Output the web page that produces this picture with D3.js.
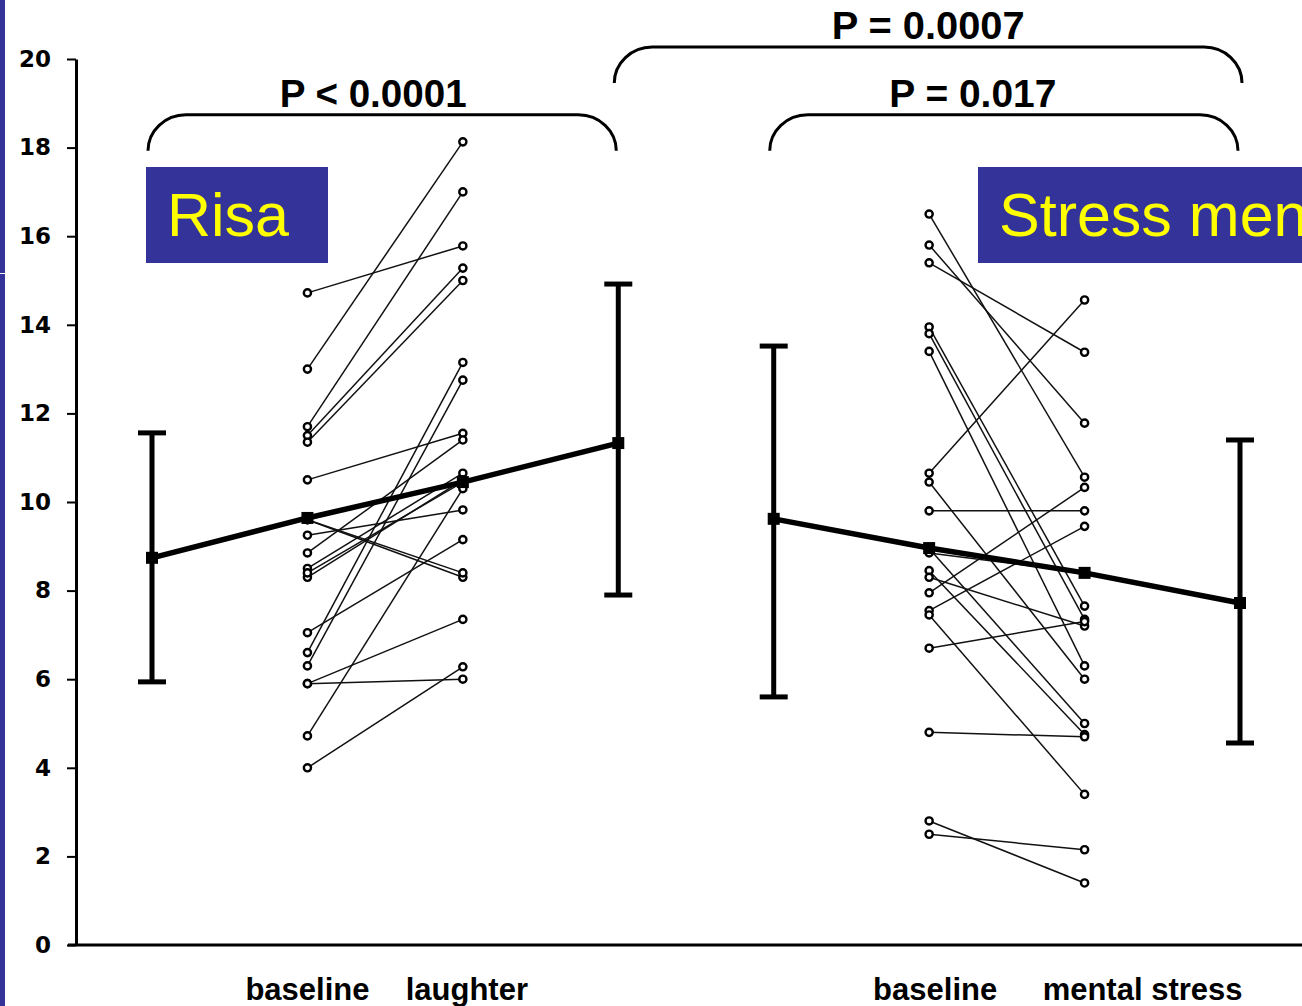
<!DOCTYPE html>
<html>
<head>
<meta charset="utf-8">
<script src="https://cdn.jsdelivr.net/npm/d3@7"></script>
<style>
  html, body { margin: 0; padding: 0; background: #ffffff; overflow: hidden; }
  svg { display: block; }
</style>
</head>
<body>
<svg id="chart" width="1302" height="1006"></svg>
<script>
// Column slots along the x axis: error-bar columns flank each paired group
const slots = ["sdBase1", "baseline1", "laughter", "sdAfter1", "sdBase2", "baseline2", "stress", "sdAfter2"];

// Y axis ticks
const yTicks = [0, 2, 4, 6, 8, 10, 12, 14, 16, 18, 20];

// Laughter session: individual subjects, baseline -> laughter
const laughBaseline = [14.72, 13.0, 11.7, 11.5, 11.35, 10.5, 9.6, 9.25, 8.85, 8.5, 8.3, 7.05, 6.6, 6.3, 5.9, 5.9, 4.72, 4.0, 8.4, 9.6];
const laughAfter    = [15.78, 18.13, 17.0, 15.28, 15.0, 11.55, 8.3, 9.82, 11.4, 10.65, 10.5, 9.15, 13.15, 12.75, 6.0, 7.35, 10.3, 6.28, 10.45, 8.4];

// Mental stress session: individual subjects, baseline -> mental stress
const stressBaseline = [16.5, 15.8, 15.4, 13.95, 13.8, 13.4, 10.65, 10.45, 9.8, 8.95, 8.85, 8.45, 8.3, 7.95, 7.55, 7.45, 6.7, 4.8, 2.8, 2.5];
const stressAfter    = [10.56, 11.78, 13.38, 7.65, 7.35, 6.3, 14.56, 6.0, 9.8, 5.0, 8.4, 4.75, 7.2, 10.33, 9.45, 3.4, 7.3, 4.7, 1.4, 2.15];

// Group means (thick lines), one value per slot
const meanLaughSlots  = ["sdBase1", "baseline1", "laughter", "sdAfter1"];
const meanLaugh       = [8.74, 9.64, 10.45, 11.33];
const meanStressSlots = ["sdBase2", "baseline2", "stress", "sdAfter2"];
const meanStress      = [9.62, 8.96, 8.40, 7.72];

// Error bars (mean ± SD)
const errSlots = ["sdBase1", "sdAfter1", "sdBase2", "sdAfter2"];
const errMid   = [8.74, 11.33, 9.62, 7.72];
const errLow   = [5.94, 7.90, 5.60, 4.56];
const errHigh  = [11.56, 14.92, 13.52, 11.40];

// Category labels below the axis
const catSlots  = ["baseline1", "laughter", "baseline2", "stress"];
const catLabels = ["baseline", "laughter", "baseline", "mental stress"];

// Significance brackets
const bracketFrom   = ["sdBase1", "sdAfter1", "sdBase2"];
const bracketTo     = ["sdAfter1", "sdAfter2", "sdAfter2"];
const bracketLevel  = [18.74, 20.27, 18.74];
const bracketLabels = ["P < 0.0001", "P = 0.0007", "P = 0.017"];

// Session titles
const sessionTitles = ["Risa", "Stress mental"];

const svg = d3.select("#chart");
const W = 1302, H = 1006;

const x = d3.scalePoint().domain(slots).range([152, 1240]);
const y = d3.scaleLinear().domain([0, 20]).range([945, 59]);

// Left page strip
svg.append("rect").attr("x", 0).attr("y", 0).attr("width", 5).attr("height", H).attr("fill", "#333399");
svg.append("rect").attr("x", 0).attr("y", 273).attr("width", 5).attr("height", 1).attr("fill", "#ffffff");

// Y axis
const yAxis = d3.axisLeft(y).tickValues(yTicks).tickSize(9).tickPadding(16).tickSizeOuter(0);
const gy = svg.append("g").attr("transform", "translate(76,0)").call(yAxis);
gy.select(".domain").attr("stroke", "#000").attr("stroke-width", 3);
gy.selectAll(".tick line").attr("stroke", "#000").attr("stroke-width", 2);
gy.selectAll(".tick text")
  .attr("font-family", "'DejaVu Sans', sans-serif")
  .attr("font-weight", "bold")
  .attr("font-size", 23)
  .attr("fill", "#000");

// X axis line
svg.append("line")
  .attr("x1", 68).attr("x2", W)
  .attr("y1", y(0)).attr("y2", y(0))
  .attr("stroke", "#000").attr("stroke-width", 3);

// Category labels
const catDx = [0, 4, 6, 58];
svg.selectAll("text.cat").data(catLabels).join("text")
  .attr("class", "cat")
  .attr("x", (d, i) => x(catSlots[i]) + catDx[i])
  .attr("y", 1000)
  .attr("text-anchor", "middle")
  .attr("font-family", "'Liberation Sans', Arial, sans-serif")
  .attr("font-weight", "bold")
  .attr("font-size", 31)
  .attr("fill", "#000")
  .text(d => d);

// Individual subject lines
function drawPairs(before, after, s0, s1, cls) {
  const g = svg.append("g").attr("class", cls);
  g.selectAll("line").data(before).join("line")
    .attr("x1", x(s0)).attr("x2", x(s1))
    .attr("y1", d => y(d))
    .attr("y2", (d, i) => y(after[i]))
    .attr("stroke", "#111").attr("stroke-width", 1.5);
  g.selectAll("circle.b").data(before).join("circle")
    .attr("class", "b")
    .attr("cx", x(s0)).attr("cy", d => y(d)).attr("r", 3.6)
    .attr("fill", "#fff").attr("stroke", "#000").attr("stroke-width", 2.4);
  g.selectAll("circle.a").data(after).join("circle")
    .attr("class", "a")
    .attr("cx", x(s1)).attr("cy", d => y(d)).attr("r", 3.6)
    .attr("fill", "#fff").attr("stroke", "#000").attr("stroke-width", 2.4);
}
drawPairs(laughBaseline, laughAfter, "baseline1", "laughter", "laugh");
drawPairs(stressBaseline, stressAfter, "baseline2", "stress", "stressG");

// Error bars
const eb = svg.append("g");
eb.selectAll("line.v").data(errSlots).join("line")
  .attr("class", "v")
  .attr("x1", d => x(d)).attr("x2", d => x(d))
  .attr("y1", (d, i) => y(errLow[i])).attr("y2", (d, i) => y(errHigh[i]))
  .attr("stroke", "#000").attr("stroke-width", 5);
eb.selectAll("line.top").data(errSlots).join("line")
  .attr("class", "top")
  .attr("x1", d => x(d) - 14).attr("x2", d => x(d) + 14)
  .attr("y1", (d, i) => y(errHigh[i])).attr("y2", (d, i) => y(errHigh[i]))
  .attr("stroke", "#000").attr("stroke-width", 5);
eb.selectAll("line.bot").data(errSlots).join("line")
  .attr("class", "bot")
  .attr("x1", d => x(d) - 14).attr("x2", d => x(d) + 14)
  .attr("y1", (d, i) => y(errLow[i])).attr("y2", (d, i) => y(errLow[i]))
  .attr("stroke", "#000").attr("stroke-width", 5);

// Mean lines
function drawMean(slotList, vals) {
  const line = d3.line().x((d, i) => x(slotList[i])).y(d => y(d));
  svg.append("path").datum(vals)
    .attr("d", line)
    .attr("fill", "none").attr("stroke", "#000").attr("stroke-width", 5.5)
    .attr("stroke-linejoin", "round");
  svg.append("g").selectAll("rect").data(vals).join("rect")
    .attr("x", (d, i) => x(slotList[i]) - 6)
    .attr("y", d => y(d) - 6)
    .attr("width", 12).attr("height", 12)
    .attr("fill", "#000");
}
drawMean(meanLaughSlots, meanLaugh);
drawMean(meanStressSlots, meanStress);

// Significance brackets
const curl = 36, rx = 38;
const br = svg.append("g");
br.selectAll("path").data(bracketLevel).join("path")
  .attr("d", (d, i) => {
    const x1 = x(bracketFrom[i]) - 4, x2 = x(bracketTo[i]) + (i === 1 ? 2 : -2);
    const yt = y(d), yb = yt + curl;
    return `M${x1},${yb} A${rx},${curl} 0 0 1 ${x1 + rx},${yt} L${x2 - rx},${yt} A${rx},${curl} 0 0 1 ${x2},${yb}`;
  })
  .attr("fill", "none").attr("stroke", "#000").attr("stroke-width", 3);
const pWidths = [187, 193, 167];
const pDx = [-12, -1, -34];
br.selectAll("text").data(bracketLabels).join("text")
  .attr("x", (d, i) => (x(bracketFrom[i]) + x(bracketTo[i])) / 2 + pDx[i])
  .attr("y", (d, i) => y(bracketLevel[i]) - 8)
  .attr("text-anchor", "middle")
  .attr("font-family", "'Liberation Sans', Arial, sans-serif")
  .attr("font-weight", "bold")
  .attr("font-size", 38)
  .attr("textLength", (d, i) => pWidths[i])
  .attr("lengthAdjust", "spacingAndGlyphs")
  .attr("fill", "#000")
  .text(d => d);

// Session title boxes (the right one runs past the page edge)
const boxX = [146, 978], boxW = [182, 330];
const defs = svg.append("defs");
sessionTitles.forEach((t, i) => {
  defs.append("clipPath").attr("id", "titleClip" + i)
    .append("rect")
    .attr("x", boxX[i]).attr("y", 167)
    .attr("width", Math.min(boxW[i], W - boxX[i])).attr("height", 96);
});
const tb = svg.append("g");
tb.selectAll("rect").data(sessionTitles).join("rect")
  .attr("x", (d, i) => boxX[i]).attr("y", 167)
  .attr("width", (d, i) => boxW[i]).attr("height", 96)
  .attr("fill", "#333399");
tb.selectAll("text").data(sessionTitles).join("text")
  .attr("clip-path", (d, i) => `url(#titleClip${i})`)
  .attr("x", (d, i) => boxX[i] + 21)
  .attr("y", 236)
  .attr("font-family", "'Liberation Sans', Arial, sans-serif")
  .attr("font-size", 61)
  .attr("fill", "#ffff00")
  .text(d => d);
</script>
</body>
</html>
